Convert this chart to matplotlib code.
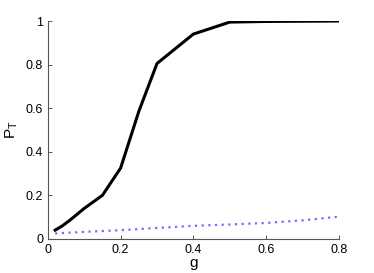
import numpy as np
import matplotlib
matplotlib.use("Agg")
import matplotlib.pyplot as plt
from matplotlib.ticker import FormatStrFormatter

# black curve: P_T vs g
g_black = [0.02, 0.04, 0.06, 0.1, 0.15, 0.2, 0.25, 0.3, 0.4, 0.5, 0.6, 0.8]
p_black = [0.04, 0.06, 0.085, 0.14, 0.2, 0.325, 0.585, 0.805, 0.94, 0.995, 0.998, 1.0]

# blue dotted curve
g_blue = [0.02, 0.1, 0.2, 0.3, 0.4, 0.5, 0.6, 0.7, 0.8]
p_blue = [0.025, 0.032, 0.04, 0.05, 0.06, 0.066, 0.073, 0.085, 0.102]

xticks = [0, 0.2, 0.4, 0.6, 0.8]
yticks = [0, 0.2, 0.4, 0.6, 0.8, 1]

plt.rcParams['font.family'] = ['Liberation Sans', 'DejaVu Sans']

fig = plt.figure(figsize=(3.74, 2.73), dpi=100)
ax = fig.add_axes([0.128, 0.125, 0.778, 0.798])
ax.plot(g_black, p_black, color='black', lw=2.2)
ax.plot(g_blue, p_blue, color='#6f6fff', lw=1.6, ls=(0, (1, 2)))

ax.set_xlim(0, 0.8)
ax.set_ylim(0, 1)
ax.set_xticks(xticks)
ax.set_yticks(yticks)
ax.xaxis.set_major_formatter(FormatStrFormatter('%g'))
ax.yaxis.set_major_formatter(FormatStrFormatter('%g'))
ax.tick_params(direction='in', length=3, labelsize=9, width=0.6, colors='#444444', labelcolor='black')
for s in ['top', 'right']:
    ax.spines[s].set_visible(False)
for s in ['left', 'bottom']:
    ax.spines[s].set_color('#555555')
    ax.spines[s].set_linewidth(0.8)

ax.set_xlabel('g', fontsize=11, labelpad=0)
ax.set_ylabel(r'$\mathregular{P_T}$', fontsize=11, labelpad=4)

fig.savefig('out.png', dpi=100)
